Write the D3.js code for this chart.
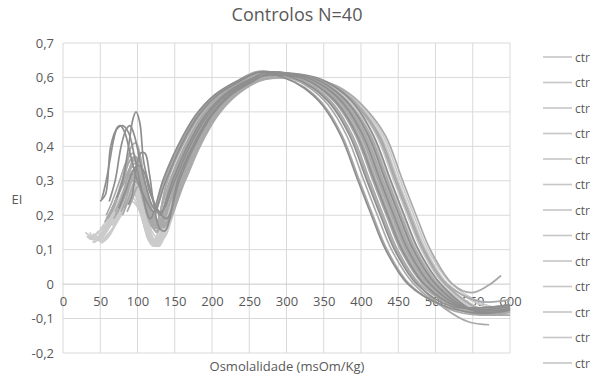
<!DOCTYPE html>
<html>
<head>
<meta charset="utf-8">
<script src="https://cdn.jsdelivr.net/npm/d3@7"></script>
<style>
  body { margin: 0; background: #fff; }
  text { font-family: "Open Sans", sans-serif; fill: #595959; }
</style>
</head>
<body>
<div id="chart"></div>
<script>
// osmolality (msOm/Kg) vs EI, one array of [osm, EI] per control
const darkRuns = [
  [[50,.24],[57,.26],[64,.40],[72,.45],[80,.46],[88,.44],[96,.37],[106,.27],[117,.19],[134,.30],[154,.40],[178,.49],[204,.55],[234,.59],[263,.615],[296,.60],[323,.57],[348,.52],[373,.43],[396,.30],[414,.20],[433,.10],[463,0],[508,-.06],[560,-.085],[600,-.075]],
  [[72,.25],[80,.30],[88,.40],[94,.48],[98,.50],[103,.47],[108,.36],[114,.30],[122,.24],[130,.20],[147,.30],[167,.40],[191,.49],[217,.55],[247,.59],[270,.605],[318,.60],[345,.57],[370,.52],[395,.43],[418,.30],[436,.20],[455,.10],[485,0],[530,-.065],[600,-.06]],
  [[62,.24],[70,.30],[78,.40],[85,.45],[90,.46],[96,.43],[104,.35],[112,.28],[122,.22],[132,.21],[150,.30],[170,.40],[194,.49],[220,.55],[250,.59],[272,.615],[326,.60],[353,.57],[378,.52],[403,.43],[426,.30],[444,.20],[463,.10],[493,0],[540,-.07],[600,-.065]],
  [[52,.245],[58,.30],[63,.36],[68,.42],[73,.455],[77,.46],[83,.44],[90,.38],[100,.30],[110,.25],[122,.21],[138,.30],[158,.40],[182,.49],[208,.55],[238,.59],[264,.616],[308,.60],[335,.57],[360,.52],[385,.43],[408,.30],[426,.20],[445,.10],[475,0],[522,-.065],[600,-.06]],
  [[88,.23],[93,.26],[98,.33],[104,.38],[110,.38],[116,.32],[122,.23],[130,.16],[137,.155],[154,.30],[174,.40],[198,.49],[224,.55],[254,.59],[274,.61],[333,.60],[360,.57],[385,.52],[410,.43],[433,.30],[451,.20],[470,.10],[500,0],[548,-.075],[600,-.07]],
  [[75,.22],[84,.27],[92,.32],[100,.345],[108,.33],[116,.27],[126,.22],[139,.19],[156,.30],[176,.40],[200,.49],[226,.55],[256,.59],[276,.612],[340,.60],[367,.57],[392,.52],[417,.43],[440,.30],[458,.20],[477,.10],[507,0],[555,-.08],[600,-.075]]
];

const midRuns = [
  [[58,.20],[66,.24],[76,.30],[86,.36],[94,.38],[102,.34],[110,.26],[118,.18],[126,.15],[145,.30],[164,.40],[187,.49],[213,.55],[243,.59],[268,.615],[323,.60],[350,.57],[375,.52],[400,.43],[423,.30],[441,.20],[460,.10],[490,0],[538,-.07],[600,-.07]],
  [[66,.22],[74,.26],[84,.33],[92,.40],[98,.41],[104,.37],[110,.29],[116,.22],[121,.19],[136,.30],[156,.40],[180,.49],[206,.55],[236,.59],[264,.618],[304,.60],[331,.57],[356,.52],[381,.43],[404,.30],[422,.20],[441,.10],[471,0],[515,-.07],[568,-.09],[600,-.075]],
  [[70,.20],[78,.23],[86,.28],[94,.33],[102,.34],[108,.30],[114,.24],[120,.19],[130,.16],[152,.30],[172,.40],[196,.49],[222,.55],[252,.59],[273,.614],[330,.60],[357,.57],[382,.52],[407,.43],[430,.30],[448,.20],[467,.10],[497,0],[548,-.075],[600,-.07]],
  [[60,.19],[68,.22],[78,.28],[88,.33],[96,.36],[103,.33],[110,.26],[117,.19],[124,.165],[140,.30],[160,.40],[184,.49],[210,.55],[240,.59],[266,.614],[312,.60],[339,.57],[364,.52],[389,.43],[412,.30],[430,.20],[449,.10],[479,0],[522,-.06],[565,-.085],[600,-.07]],
  [[78,.21],[85,.25],[92,.30],[100,.32],[107,.30],[114,.25],[121,.20],[129,.17],[136,.165],[158,.30],[178,.40],[202,.49],[228,.55],[258,.59],[277,.606],[336,.595],[363,.565],[388,.515],[413,.43],[436,.30],[454,.20],[473,.10],[503,0],[555,-.08],[600,-.075]],
  [[64,.21],[72,.25],[82,.31],[90,.36],[97,.37],[104,.33],[111,.25],[118,.19],[126,.17],[145,.30],[165,.40],[189,.49],[215,.55],[245,.59],[269,.615],[320,.60],[347,.57],[372,.52],[397,.43],[420,.30],[438,.20],[457,.10],[487,0],[540,-.08],[600,-.08]],
  [[82,.22],[88,.25],[95,.29],[102,.31],[109,.28],[116,.23],[124,.19],[136,.175],[162,.30],[182,.40],[206,.49],[232,.55],[262,.59],[280,.60],[346,.59],[373,.56],[398,.51],[423,.43],[446,.30],[464,.20],[483,.10],[513,0],[568,-.08],[600,-.07]],
  [[56,.18],[64,.21],[74,.26],[84,.30],[92,.32],[100,.30],[108,.24],[116,.18],[123,.16],[140,.30],[158,.40],[182,.49],[208,.55],[238,.59],[265,.616],[310,.60],[337,.57],[362,.52],[387,.43],[410,.30],[428,.20],[447,.10],[477,0],[512,-.07],[545,-.11],[572,-.118]],
  [[74,.22],[82,.27],[90,.34],[96,.37],[102,.36],[108,.31],[115,.24],[122,.19],[131,.175],[152,.30],[172,.40],[196,.49],[222,.55],[252,.59],[273,.612],[328,.60],[355,.57],[380,.52],[405,.43],[428,.30],[446,.20],[465,.10],[495,0],[550,-.075],[600,-.06]],
  [[68,.19],[76,.22],[85,.27],[94,.30],[101,.29],[108,.24],[114,.20],[120,.18],[134,.30],[154,.40],[178,.49],[204,.55],[234,.59],[262,.617],[298,.60],[325,.57],[350,.52],[375,.43],[398,.30],[416,.20],[435,.10],[465,0],[512,-.065],[565,-.08],[600,-.065]],
  [[80,.20],[87,.24],[95,.29],[103,.31],[110,.28],[117,.22],[125,.18],[135,.17],[160,.30],[180,.40],[204,.49],[230,.55],[260,.59],[279,.60],[348,.59],[375,.56],[400,.51],[425,.43],[448,.30],[466,.20],[485,.10],[515,0],[560,-.05],[600,-.045]],
  [[62,.20],[70,.24],[79,.30],[87,.35],[94,.365],[101,.33],[108,.26],[115,.20],[123,.17],[143,.30],[163,.40],[187,.49],[213,.55],[243,.59],[268,.615],[316,.60],[343,.57],[368,.52],[393,.43],[416,.30],[434,.20],[453,.10],[483,0],[532,-.075],[580,-.09],[600,-.08]],
  [[86,.21],[92,.24],[99,.28],[106,.30],[112,.27],[119,.22],[127,.18],[137,.17],[164,.30],[184,.40],[208,.49],[234,.55],[264,.59],[282,.598],[356,.585],[383,.555],[408,.505],[433,.43],[456,.30],[474,.20],[493,.10],[523,0],[548,-.025],[570,-.005],[588,.025]],
  [[70,.21],[78,.25],[87,.31],[95,.35],[101,.34],[107,.29],[114,.22],[121,.175],[129,.16],[148,.30],[168,.40],[192,.49],[218,.55],[248,.59],[271,.614],[324,.60],[351,.57],[376,.52],[401,.43],[424,.30],[442,.20],[461,.10],[491,0],[545,-.08],[600,-.075]],
  [[58,.19],[66,.22],[76,.27],[86,.32],[94,.34],[101,.31],[109,.24],[117,.18],[125,.155],[145,.30],[164,.40],[188,.49],[214,.55],[244,.59],[269,.615],[318,.60],[345,.57],[370,.52],[395,.43],[418,.30],[436,.20],[455,.10],[485,0],[535,-.075],[600,-.09]],
  [[76,.22],[84,.26],[92,.31],[99,.33],[106,.31],[113,.25],[120,.20],[128,.175],[156,.30],[176,.40],[200,.49],[226,.55],[256,.59],[276,.608],[334,.597],[361,.567],[386,.517],[411,.43],[434,.30],[452,.20],[471,.10],[501,0],[552,-.075],[600,-.065]]
];

const lightRuns = [
  [[34,.14],[40,.13],[46,.15],[54,.16],[62,.19],[72,.22],[82,.26],[90,.28],[98,.26],[106,.20],[114,.13],[122,.11],[134,.17],[150,.30],[170,.40],[194,.49],[220,.55],[250,.59],[271,.61],[332,.60],[359,.57],[384,.52],[409,.43],[432,.30],[450,.20],[469,.10],[499,0],[556,-.07],[600,-.06]],
  [[38,.13],[44,.14],[50,.13],[58,.15],[66,.18],[76,.21],[86,.24],[94,.25],[102,.22],[110,.16],[118,.12],[126,.11],[138,.17],[156,.30],[176,.40],[200,.49],[226,.55],[256,.59],[276,.603],[340,.595],[367,.565],[392,.515],[417,.43],[440,.30],[458,.20],[477,.10],[507,0],[566,-.075],[600,-.07]],
  [[30,.15],[36,.14],[42,.13],[50,.14],[58,.16],[68,.20],[78,.24],[88,.27],[96,.26],[104,.21],[112,.15],[120,.12],[132,.18],[147,.30],[167,.40],[191,.49],[217,.55],[247,.59],[270,.612],[330,.60],[357,.57],[382,.52],[407,.43],[430,.30],[448,.20],[467,.10],[497,0],[552,-.075],[600,-.07]],
  [[42,.12],[48,.13],[55,.125],[62,.14],[70,.17],[80,.21],[90,.25],[98,.27],[106,.24],[113,.17],[120,.125],[128,.115],[141,.18],[160,.30],[180,.40],[204,.49],[230,.55],[260,.59],[278,.598],[353,.585],[380,.555],[405,.505],[430,.43],[453,.30],[471,.20],[490,.10],[522,0],[575,-.065],[600,-.06]],
  [[46,.15],[52,.16],[60,.18],[70,.22],[80,.27],[90,.31],[98,.32],[105,.28],[112,.20],[119,.14],[127,.12],[139,.18],[156,.30],[176,.40],[200,.49],[226,.55],[256,.59],[276,.605],[338,.595],[365,.565],[390,.515],[415,.43],[438,.30],[456,.20],[475,.10],[505,0],[565,-.075],[600,-.065]],
  [[36,.13],[42,.145],[48,.13],[56,.15],[64,.17],[74,.20],[84,.23],[93,.24],[101,.22],[109,.17],[116,.13],[124,.115],[136,.17],[152,.30],[172,.40],[196,.49],[222,.55],[252,.59],[272,.608],[334,.598],[361,.568],[386,.518],[411,.43],[434,.30],[452,.20],[471,.10],[501,0],[560,-.07],[600,-.075]],
  [[50,.16],[57,.18],[66,.22],[76,.27],[86,.31],[94,.33],[101,.30],[108,.23],[115,.16],[122,.13],[128,.13],[137,.19],[149,.30],[168,.40],[192,.49],[218,.55],[248,.59],[270,.613],[322,.60],[349,.57],[374,.52],[399,.43],[422,.30],[440,.20],[459,.10],[489,0],[546,-.08],[600,-.075]],
  [[40,.14],[46,.13],[52,.14],[60,.16],[68,.19],[78,.23],[88,.28],[96,.30],[104,.26],[111,.19],[118,.14],[125,.12],[137,.175],[154,.30],[174,.40],[198,.49],[224,.55],[254,.59],[274,.606],[336,.596],[363,.566],[388,.516],[413,.43],[436,.30],[454,.20],[473,.10],[503,0],[562,-.08],[600,-.08]],
  [[54,.15],[60,.17],[68,.20],[78,.25],[88,.29],[96,.31],[103,.28],[110,.21],[117,.15],[124,.125],[135,.17],[152,.30],[172,.40],[196,.49],[222,.55],[252,.59],[272,.61],[328,.60],[355,.57],[380,.52],[405,.43],[428,.30],[446,.20],[465,.10],[495,0],[550,-.08],[600,-.08]],
  [[32,.14],[38,.13],[44,.145],[52,.15],[60,.17],[70,.21],[80,.25],[90,.28],[98,.27],[106,.21],[113,.15],[121,.12],[133,.18],[147,.30],[166,.40],[190,.49],[216,.55],[246,.59],[269,.611],[330,.60],[357,.57],[382,.52],[407,.43],[430,.30],[448,.20],[467,.10],[497,0],[556,-.075],[600,-.075]],
  [[60,.17],[67,.19],[76,.24],[86,.29],[94,.32],[101,.30],[108,.24],[115,.17],[122,.13],[129,.125],[138,.19],[150,.30],[170,.40],[194,.49],[220,.55],[250,.59],[271,.613],[320,.60],[347,.57],[372,.52],[397,.43],[420,.30],[438,.20],[457,.10],[487,0],[540,-.075],[600,-.08]],
  [[44,.13],[50,.14],[57,.13],[64,.15],[72,.18],[82,.22],[92,.26],[100,.27],[107,.23],[114,.16],[121,.12],[129,.11],[143,.18],[162,.30],[182,.40],[206,.49],[232,.55],[262,.59],[279,.597],[350,.585],[377,.555],[402,.505],[427,.43],[450,.30],[468,.20],[487,.10],[517,0],[575,-.07],[600,-.065]],
  [[48,.14],[55,.15],[63,.17],[72,.21],[82,.26],[91,.30],[99,.30],[106,.25],[113,.18],[120,.13],[128,.12],[141,.18],[158,.30],[178,.40],[202,.49],[228,.55],[258,.59],[277,.603],[344,.592],[371,.562],[396,.512],[421,.43],[444,.30],[462,.20],[481,.10],[511,0],[572,-.08],[600,-.07]],
  [[36,.15],[42,.13],[48,.14],[56,.16],[64,.19],[74,.23],[84,.27],[93,.29],[101,.27],[109,.20],[116,.14],[124,.115],[136,.17],[150,.30],[170,.40],[194,.49],[220,.55],[250,.59],[271,.609],[332,.60],[359,.57],[384,.52],[409,.43],[432,.30],[450,.20],[469,.10],[499,0],[558,-.08],[600,-.085]],
  [[66,.17],[73,.19],[82,.23],[91,.27],[99,.29],[106,.26],[113,.20],[120,.15],[128,.13],[136,.135],[146,.19],[162,.30],[182,.40],[206,.49],[232,.55],[262,.59],[279,.604],[338,.595],[365,.565],[390,.515],[415,.43],[438,.30],[456,.20],[475,.10],[505,0],[560,-.075],[600,-.07]],
  [[40,.12],[46,.135],[52,.12],[60,.14],[68,.165],[78,.20],[88,.24],[96,.26],[104,.24],[112,.18],[119,.13],[127,.11],[140,.17],[158,.30],[178,.40],[202,.49],[228,.55],[258,.59],[277,.602],[346,.59],[373,.56],[398,.51],[423,.43],[446,.30],[464,.20],[483,.10],[513,0],[572,-.08],[600,-.07]],
  [[52,.15],[59,.165],[67,.19],[77,.23],[87,.27],[95,.29],[102,.26],[109,.19],[116,.14],[123,.12],[135,.17],[154,.30],[174,.40],[198,.49],[224,.55],[254,.59],[274,.611],[326,.60],[353,.57],[378,.52],[403,.43],[426,.30],[444,.20],[463,.10],[493,0],[548,-.08],[600,-.08]],
  [[45,.13],[51,.125],[58,.14],[66,.16],[75,.20],[85,.25],[94,.28],[102,.27],[110,.21],[117,.15],[125,.12],[137,.175],[156,.30],[176,.40],[200,.49],[226,.55],[256,.59],[276,.607],[328,.60],[355,.57],[380,.52],[405,.43],[428,.30],[446,.20],[465,.10],[495,0],[554,-.08],[600,-.07]]
];

const xTicks = [0, 50, 100, 150, 200, 250, 300, 350, 400, 450, 500, 550, 600];
const yTicks = [-0.2, -0.1, 0, 0.1, 0.2, 0.3, 0.4, 0.5, 0.6, 0.7];
// the legend is cut at the right edge: only 13 entries and "ctr" are visible
const legendLabels = ['ctr','ctr','ctr','ctr','ctr','ctr','ctr','ctr','ctr','ctr','ctr','ctr','ctr'];

const width = 590, height = 378;

const svg = d3.select('#chart')
    .append('svg')
    .attr('width', width)
    .attr('height', height);

const x = d3.scaleLinear().domain([0, 600]).range([63, 510]);
const y = d3.scaleLinear().domain([-0.2, 0.7]).range([353, 43]);

const pt = d3.formatLocale({decimal: ',', thousands: '.', grouping: [3], currency: ['', '€'], minus: '-'});
const yFmt = d => d === 0 ? '0' : pt.format('.1f')(d);

// grid
svg.append('g')
    .selectAll('line')
    .data(xTicks)
    .join('line')
    .attr('x1', d => x(d)).attr('x2', d => x(d))
    .attr('y1', y(0.7)).attr('y2', y(-0.2))
    .attr('stroke', '#d9d9d9');
svg.append('g')
    .selectAll('line')
    .data(yTicks)
    .join('line')
    .attr('x1', x(0)).attr('x2', x(600))
    .attr('y1', d => y(d)).attr('y2', d => y(d))
    .attr('stroke', d => d === 0 ? '#c8c8c8' : '#d9d9d9');

// axes (labels only, Excel style)
const yAxis = d3.axisLeft(y).tickValues(yTicks).tickFormat(yFmt).tickSize(0).tickPadding(9);
svg.append('g')
    .attr('transform', `translate(${x(0)},0)`)
    .call(yAxis)
    .call(g => g.select('.domain').remove())
    .selectAll('text')
    .style('font-size', '13px')
    .attr('fill', '#595959');

const xAxis = d3.axisBottom(x).tickValues(xTicks).tickFormat(d3.format('d')).tickSize(0).tickPadding(13);
svg.append('g')
    .attr('transform', `translate(0,${y(0)})`)
    .call(xAxis)
    .call(g => g.select('.domain').remove())
    .selectAll('text')
    .style('font-size', '13px')
    .attr('fill', '#595959');

// curves
const line = d3.line()
    .x(d => x(d[0]))
    .y(d => y(d[1]))
    .curve(d3.curveCatmullRom.alpha(0.5));

const groups = [
    {runs: lightRuns, color: '#cbcbcb'},
    {runs: midRuns, color: '#a9a9a9'},
    {runs: darkRuns, color: '#8e8e8e'}
];
groups.forEach(gr => {
    svg.append('g')
        .selectAll('path')
        .data(gr.runs)
        .join('path')
        .attr('d', line)
        .attr('fill', 'none')
        .attr('stroke', gr.color)
        .attr('stroke-width', 1.7)
        .attr('stroke-linejoin', 'round');
});

// title + axis titles
svg.append('text')
    .attr('x', 297).attr('y', 21)
    .attr('text-anchor', 'middle')
    .style('font-size', '18px')
    .text('Controlos N=40');

svg.append('text')
    .attr('x', 17).attr('y', 204)
    .attr('text-anchor', 'middle')
    .style('font-size', '13px')
    .text('EI');

svg.append('text')
    .attr('x', 287).attr('y', 371)
    .attr('text-anchor', 'middle')
    .style('font-size', '13px')
    .text('Osmolalidade (msOm/Kg)');

// legend
const legend = svg.append('g')
    .selectAll('g')
    .data(legendLabels)
    .join('g')
    .attr('transform', (d, i) => `translate(543,${57 + i * 25.5})`);
legend.append('line')
    .attr('x1', 0).attr('x2', 29)
    .attr('stroke', '#c6c6c6')
    .attr('stroke-width', 1.6);
legend.append('text')
    .attr('x', 32).attr('y', 4.5)
    .style('font-size', '12px')
    .text(d => d);
</script>
</body>
</html>
